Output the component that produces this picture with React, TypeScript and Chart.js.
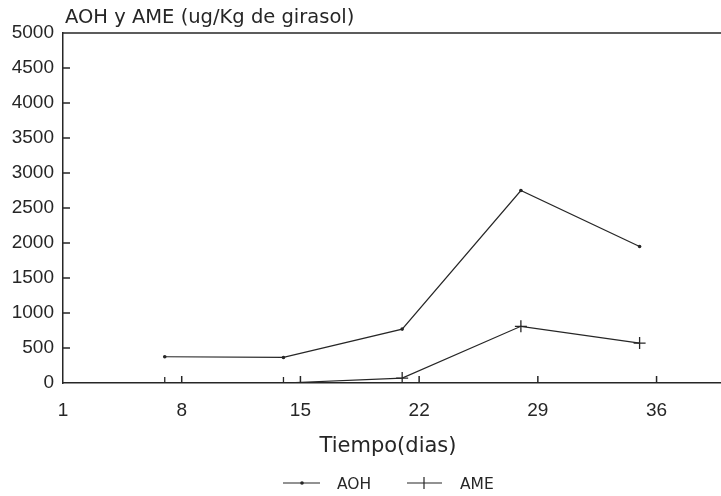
import React, { useEffect, useRef } from "react";
import { Chart, registerables } from "chart.js";

Chart.register(...registerables);

const days = [7, 14, 21, 28, 35];
const aoh = [375, 365, 770, 2750, 1950];
const ame = [0, 0, 70, 810, 570];
const xTickValues = [1, 8, 15, 22, 29, 36];
const yTickValues = [0, 500, 1000, 1500, 2000, 2500, 3000, 3500, 4000, 4500, 5000];

const chartTitle = "AOH y AME (ug/Kg de girasol)";
const xTitle = "Tiempo(dias)";
const seriesNames = ["AOH", "AME"];

const INK = "#262626";

const decorPlugin = {
  id: "decor",
  beforeDraw(chart: any) {
    const { ctx, width, height } = chart;
    ctx.save();
    ctx.fillStyle = "#ffffff";
    ctx.fillRect(0, 0, width, height);
    ctx.restore();
  },
  afterDraw(chart: any) {
    const { ctx, chartArea } = chart;
    const xs = chart.scales.x;
    const ys = chart.scales.y;
    ctx.save();
    ctx.strokeStyle = INK;
    ctx.fillStyle = INK;
    // top border
    ctx.lineWidth = 1.5;
    ctx.beginPath();
    ctx.moveTo(chartArea.left, chartArea.top);
    ctx.lineTo(chartArea.right, chartArea.top);
    ctx.stroke();
    // inward ticks
    ctx.lineWidth = 1.5;
    yTickValues.forEach((v) => {
      if (v === 0 || v === 5000) return;
      const y = ys.getPixelForValue(v);
      ctx.beginPath();
      ctx.moveTo(chartArea.left, y);
      ctx.lineTo(chartArea.left + 7, y);
      ctx.stroke();
    });
    xTickValues.forEach((v) => {
      if (v === 1) return;
      const x = xs.getPixelForValue(v);
      ctx.beginPath();
      ctx.moveTo(x, chartArea.bottom);
      ctx.lineTo(x, chartArea.bottom - 7);
      ctx.stroke();
    });
    // title
    ctx.font = "19.5px 'DejaVu Sans'";
    ctx.textAlign = "left";
    ctx.textBaseline = "alphabetic";
    ctx.fillText(chartTitle, 65, 23);
    // x title
    ctx.font = "21px 'DejaVu Sans'";
    ctx.textAlign = "center";
    ctx.fillText(xTitle, 388, 452);
    // legend
    const ly = 483;
    ctx.lineWidth = 1.2;
    ctx.beginPath();
    ctx.moveTo(283, ly);
    ctx.lineTo(320, ly);
    ctx.stroke();
    ctx.beginPath();
    ctx.arc(302, ly, 1.8, 0, Math.PI * 2);
    ctx.fill();
    ctx.beginPath();
    ctx.moveTo(407, ly);
    ctx.lineTo(442, ly);
    ctx.moveTo(424, ly - 6);
    ctx.lineTo(424, ly + 6);
    ctx.stroke();
    ctx.font = "15.5px 'DejaVu Sans'";
    ctx.textAlign = "left";
    ctx.fillText(seriesNames[0], 337, ly + 6);
    ctx.fillText(seriesNames[1], 460, ly + 6);
    ctx.restore();
  },
};

export default function App() {
  const ref = useRef<HTMLCanvasElement | null>(null);
  useEffect(() => {
    document.body.style.margin = "0";
    const canvas = ref.current;
    if (!canvas) return;
    const chart = new Chart(canvas, {
      type: "line",
      data: {
        datasets: [
          {
            label: seriesNames[0],
            data: days.map((d, i) => ({ x: d, y: aoh[i] })),
            borderColor: INK,
            backgroundColor: INK,
            borderWidth: 1.2,
            pointRadius: 1.8,
            pointStyle: "circle",
            pointBorderWidth: 0,
            tension: 0,
          },
          {
            label: seriesNames[1],
            data: days.map((d, i) => ({ x: d, y: ame[i] })),
            borderColor: INK,
            backgroundColor: INK,
            borderWidth: 1.2,
            pointRadius: 6,
            pointStyle: "cross",
            pointBorderWidth: 1.3,
            tension: 0,
          },
        ],
      },
      options: {
        animation: false,
        responsive: false,
        devicePixelRatio: 1,
        layout: { autoPadding: false, padding: { left: 0, right: 0, top: 33, bottom: 0 } },
        plugins: { legend: { display: false }, title: { display: false }, tooltip: { enabled: false } },
        scales: {
          x: {
            type: "linear",
            min: 1,
            max: 39.8,
            grid: { display: false, drawTicks: false },
            border: { display: true, color: INK, width: 1.5 },
            afterBuildTicks: (scale: any) => {
              scale.ticks = xTickValues.map((v) => ({ value: v }));
            },
            afterFit: (scale: any) => {
              scale.height = 113;
            },
            ticks: {
              padding: 16,
              color: INK,
              font: { family: "'Liberation Sans'", size: 19 },
              maxRotation: 0,
              autoSkip: false,
              callback: (v: any) => String(v),
            },
          },
          y: {
            type: "linear",
            min: 0,
            max: 5000,
            grid: { display: false, drawTicks: false },
            border: { display: true, color: INK, width: 1.5 },
            afterBuildTicks: (scale: any) => {
              scale.ticks = yTickValues.map((v) => ({ value: v }));
            },
            afterFit: (scale: any) => {
              scale.width = 63;
            },
            ticks: {
              padding: 9,
              color: INK,
              font: { family: "'Liberation Sans'", size: 19 },
              callback: (v: any) => String(v),
            },
          },
        },
      },
      plugins: [decorPlugin],
    });
    return () => chart.destroy();
  }, []);
  return <canvas ref={ref} width={721} height={496} style={{ display: "block" }} />;
}
